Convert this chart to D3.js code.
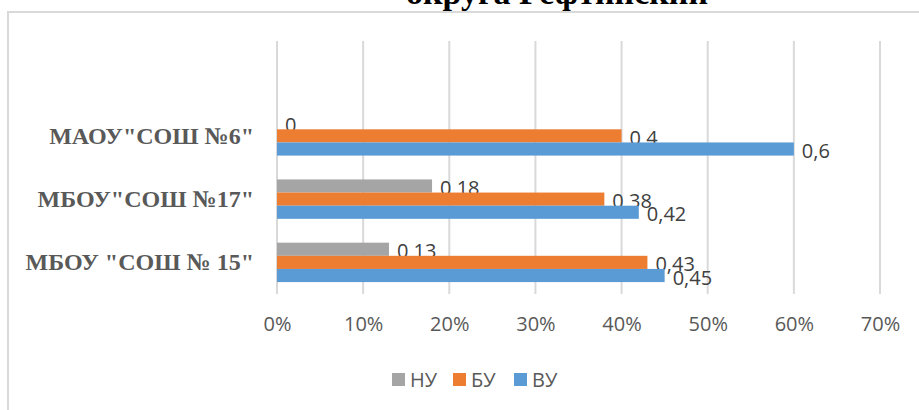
<!DOCTYPE html>
<html>
<head>
<meta charset="utf-8">
<script src="https://cdn.jsdelivr.net/npm/d3@7"></script>
<style>
  body { margin: 0; background: #ffffff; }
  svg { display: block; }
</style>
</head>
<body>
<div id="chart"></div>
<script>
// categories top to bottom (the first one is an empty category in the source chart)
const categories = ["", "МАОУ\"СОШ №6\"", "МБОУ\"СОШ №17\"", "МБОУ \"СОШ № 15\""];
const seriesNames = ["НУ", "БУ", "ВУ"];
const nuValues = [null, 0, 0.18, 0.13];
const buValues = [null, 0.4, 0.38, 0.43];
const vuValues = [null, 0.6, 0.42, 0.45];
const xTicks = [0, 0.1, 0.2, 0.3, 0.4, 0.5, 0.6, 0.7];
const colors = ["#a5a5a5", "#ed7d31", "#5b9bd5"];

const width = 919;
const height = 410;
const plot = { left: 277, right: 880, top: 41, bottom: 294 };

const series = [nuValues, buValues, vuValues];

const svg = d3.select("#chart")
    .append("svg")
    .attr("width", width)
    .attr("height", height);

// chart border
svg.append("rect")
    .attr("x", 8)
    .attr("y", 12)
    .attr("width", 940)
    .attr("height", 440)
    .attr("fill", "#ffffff")
    .attr("stroke", "#d9d9d9")
    .attr("stroke-width", 2);

// title, only its last line shows at the top edge
svg.append("text")
    .attr("x", 557)
    .attr("y", 4)
    .attr("text-anchor", "middle")
    .attr("font-family", "Liberation Serif, serif")
    .attr("font-weight", "bold")
    .attr("font-size", 34)
    .attr("fill", "#000000")
    .text("округа Рефтинский");

const x = d3.scaleLinear()
    .domain([0, 0.7])
    .range([plot.left, plot.right]);

const y = d3.scaleBand()
    .domain(categories)
    .range([plot.top, plot.bottom])
    .paddingInner(0.377)
    .paddingOuter(0.1885);

const ySub = d3.scaleBand()
    .domain(seriesNames)
    .range([0, y.bandwidth()]);

// gridlines
svg.append("g")
    .selectAll("line")
    .data(xTicks)
    .join("line")
    .attr("x1", d => x(d))
    .attr("x2", d => x(d))
    .attr("y1", plot.top)
    .attr("y2", plot.bottom)
    .attr("stroke", "#d9d9d9")
    .attr("stroke-width", 2);

// x tick labels
const xAxis = svg.append("g")
    .attr("transform", `translate(0,${plot.bottom})`)
    .call(d3.axisBottom(x).tickValues(xTicks).tickFormat(d3.format(".0%")).tickSize(0).tickPadding(23));
xAxis.select(".domain").remove();
xAxis.selectAll("text")
    .attr("font-family", "Open Sans, sans-serif")
    .attr("font-size", 20)
    .attr("fill", "#595959");

// category labels
const yAxis = svg.append("g")
    .attr("transform", `translate(${plot.left},0)`)
    .call(d3.axisLeft(y).tickSize(0).tickPadding(23));
yAxis.select(".domain").remove();
yAxis.selectAll("text")
    .attr("font-family", "Liberation Serif, serif")
    .attr("font-weight", "bold")
    .attr("font-size", 24)
    .attr("fill", "#595959");

// bars
const groups = svg.append("g")
    .selectAll("g")
    .data(seriesNames)
    .join("g");

groups.each(function(name, si) {
    const rows = categories.map((c, i) => ({ cat: c, value: series[si][i] }))
        .filter(d => d.value !== null);
    const g = d3.select(this);

    g.selectAll("rect")
        .data(rows)
        .join("rect")
        .attr("x", x(0))
        .attr("y", d => y(d.cat) + ySub(name))
        .attr("width", d => x(d.value) - x(0))
        .attr("height", ySub.bandwidth())
        .attr("fill", colors[si]);

    g.selectAll("text")
        .data(rows)
        .join("text")
        .attr("x", d => x(d.value) + 8)
        .attr("y", d => y(d.cat) + ySub(name) + ySub.bandwidth() / 2 + 2)
        .attr("dy", "0.35em")
        .attr("font-family", "Open Sans, sans-serif")
        .attr("font-size", 20)
        .attr("fill", "#404040")
        .text(d => String(d.value).replace(".", ","));
});

// legend
const legendX = [392, 453, 514];
const legend = svg.append("g")
    .selectAll("g")
    .data(seriesNames)
    .join("g")
    .attr("transform", (d, i) => `translate(${legendX[i]},380)`);

legend.append("rect")
    .attr("x", 0)
    .attr("y", -7)
    .attr("width", 13)
    .attr("height", 13)
    .attr("fill", (d, i) => colors[i]);

legend.append("text")
    .attr("x", 18)
    .attr("y", 0)
    .attr("dy", "0.35em")
    .attr("font-family", "Open Sans, sans-serif")
    .attr("font-size", 20)
    .attr("fill", "#595959")
    .text(d => d);
</script>
</body>
</html>
